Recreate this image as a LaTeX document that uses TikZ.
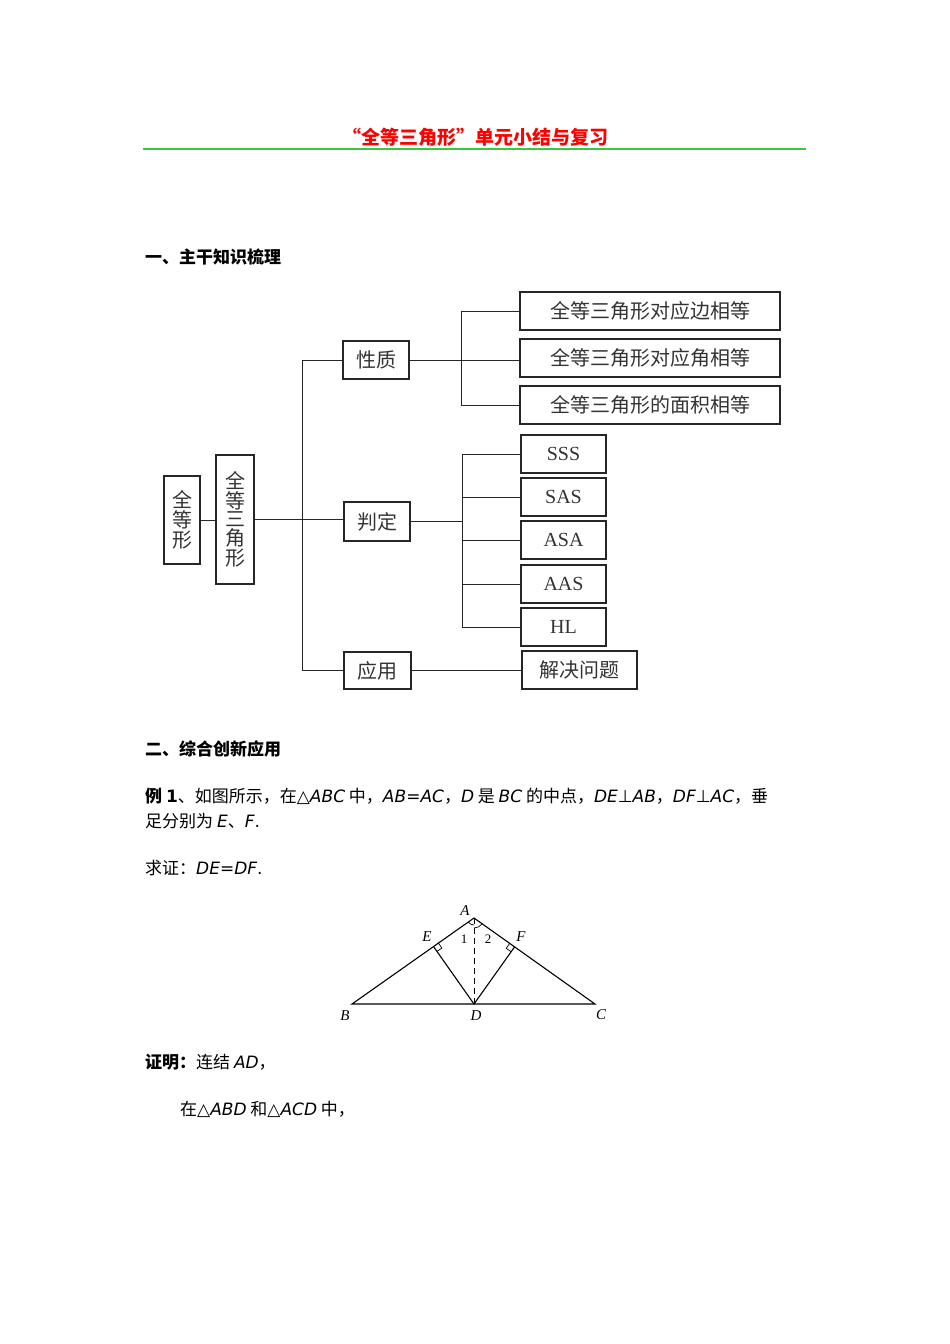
\documentclass[tikz,border=0pt]{standalone}
\usepackage{fontspec}
\setmainfont{Noto Sans CJK SC}
\newfontfamily\lat{DejaVu Sans}
\usetikzlibrary{calc}
\newcommand{\mi}[1]{{\lat\itshape #1}}
\newcommand{\ms}[1]{{\lat #1}}
\definecolor{rulegreen}{RGB}{60,200,60}
\begin{document}
\begin{tikzpicture}[x=1pt,y=-1pt,
  bx/.style={draw=black!85,line width=1.2pt,inner sep=0pt,text=black!80},
  ln/.style={line width=1pt,draw=black!85},
  tx/.style={anchor=west,inner sep=0pt,font=\fontsize{17}{20}\selectfont}]
\useasboundingbox (0,0) rectangle (950,1344);
\node[inner sep=0pt,text=red,font=\bfseries\fontsize{19}{21}\selectfont] (title) at (475,137) {“全等三角形”单元小结与复习};
\draw[rulegreen,line width=1.2pt] (143,149) coordinate (g1) -- (806,149) coordinate (g2);
\node[tx,font=\bfseries\fontsize{17}{20}\selectfont] (h1) at (145,257) {一、主干知识梳理};
% boxes
\def\B#1#2#3#4#5#6{\node[bx,minimum width=#4-#2,minimum height=#5-#3,font=\fontsize{20}{22}\selectfont] (#1) at ({(#2+#4)/2},{(#3+#5)/2}) {#6};}
\B{q}{164}{476}{200}{564}{\shortstack{全\\[-1pt]等\\[-1pt]形}}
\B{qs}{216}{455}{254}{584}{\shortstack{全\\[-1pt]等\\[-1pt]三\\[-1pt]角\\[-1pt]形}}
\B{xz}{343}{341}{409}{379}{性质}
\B{pd}{344}{502}{410}{541}{判定}
\B{yy}{344}{652}{411}{689}{应用}
\B{p1}{520}{292}{780}{330}{全等三角形对应边相等}
\B{p2}{520}{339}{780}{377}{全等三角形对应角相等}
\B{p3}{520}{386}{780}{424}{全等三角形的面积相等}
\B{j1}{521}{435}{606}{473}{\fontspec{Liberation Serif}SSS}
\B{j2}{521}{478}{606}{516}{\fontspec{Liberation Serif}SAS}
\B{j3}{521}{521}{606}{559}{\fontspec{Liberation Serif}ASA}
\B{j4}{521}{565}{606}{603}{\fontspec{Liberation Serif}AAS}
\B{j5}{521}{608}{606}{646}{\fontspec{Liberation Serif}HL}
\B{jj}{522}{651}{637}{689}{解决问题}
% connectors
\draw[ln] (q.east) -- (q.east -| qs.west);
\draw[ln] (qs.east) -- (qs.east -| pd.west);
\draw[ln] (302,0 |- xz.west) coordinate (t1) -- (xz.west);
\draw[ln] (302,0 |- yy.west) coordinate (t2) -- (yy.west);
\draw[ln] (t1) -- (t2);
\draw[ln] (xz.east) -- (xz.east -| p2.west);
\draw[ln] (461,0 |- p1.west) coordinate (s1) -- (p1.west);
\draw[ln] (461,0 |- p3.west) coordinate (s3) -- (p3.west);
\draw[ln] (s1) -- (s3);
\draw[ln] (pd.east) -- (462,0 |- pd.east);
\foreach \n in {j1,j2,j3,j4,j5} \draw[ln] (462,0 |- \n.west) -- (\n.west);
\draw[ln] (462,0 |- j1.west) -- (462,0 |- j5.west);
\draw[ln] (yy.east) -- (yy.east -| jj.west);
% text
\node[tx,font=\bfseries\fontsize{17}{20}\selectfont] (h2) at (145,749) {二、综合创新应用};
\node[tx] (e1) at (145,796) {{\bfseries 例 \ms{1}}、如图所示，在\ms{△}\mi{ABC} 中，\mi{AB}\ms{=}\mi{AC}，\mi{D} 是 \mi{BC} 的中点，\mi{DE}\ms{⊥}\mi{AB}，\mi{DF}\ms{⊥}\mi{AC}，垂};
\node[tx] (e2) at (145,821) {足分别为 \mi{E}、\mi{F}\ms{.}};
\node[tx] (e3) at (145,868) {求证：\mi{DE}\ms{=}\mi{DF}\ms{.}};
\node[tx] (e4) at (145,1062) {{\bfseries 证明：}连结 \mi{AD}，};
\node[tx] (e5) at (180,1109) {在\ms{△}\mi{ABD} 和\ms{△}\mi{ACD} 中，};
% triangle
\coordinate (A) at (474,918);
\coordinate (B) at (352,1004);
\coordinate (C) at (595,1004);
\coordinate (D) at (474,1004);
\coordinate (E) at ($(A)!(D)!(B)$);
\coordinate (F) at ($(A)!(D)!(C)$);
\draw[line width=1.1pt] (A) -- (B) -- (C) -- cycle;
\draw[line width=1.1pt] (E) -- (D) -- (F);
\draw[line width=0.8pt,dash pattern=on 6pt off 4pt] (A) -- (D);
\coordinate (ea) at ($(E)!6pt!(A)$);
\coordinate (ed) at ($(E)!6pt!(D)$);
\coordinate (fa) at ($(F)!6pt!(A)$);
\coordinate (fd) at ($(F)!6pt!(D)$);
\draw[line width=0.7pt] (ea) -- ($(ea)+(ed)-(E)$) -- (ed);
\draw[line width=0.7pt] (fa) -- ($(fa)+(fd)-(F)$) -- (fd);
\draw[line width=0.7pt] ($(A)!7pt!(B)$) arc[start angle=215,end angle=270,radius=7pt];
\draw[line width=0.7pt] ($(A)!10pt!(D)$) arc[start angle=270,end angle=325,radius=10pt];
\begin{scope}[font=\fontspec{Liberation Serif}\itshape\fontsize{15}{17}\selectfont,inner sep=0pt]
\node (lA) at (465,911) {A};
\node (lB) at (345,1016) {B};
\node (lC) at (601,1015) {C};
\node (lD) at (476,1016) {D};
\node (lE) at (427,937) {E};
\node (lF) at (521,937) {F};
\node[font=\fontspec{Liberation Serif}\fontsize{13}{15}\selectfont] (l1) at (464,939) {1};
\node[font=\fontspec{Liberation Serif}\fontsize{13}{15}\selectfont] (l2) at (488,939) {2};
\end{scope}
\end{tikzpicture}
\end{document}
